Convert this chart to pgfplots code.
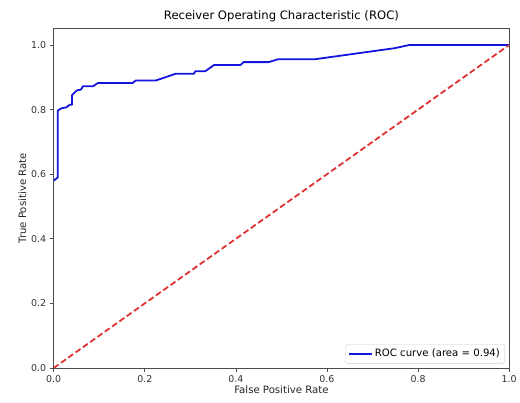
\documentclass[border=0pt]{standalone}
\usepackage{fontspec}
\setmainfont{DejaVu Sans}
\usepackage{pgfplots}
\pgfplotsset{compat=1.18}
\definecolor{rocblue}{RGB}{20,20,220}
\definecolor{diagred}{RGB}{222,50,50}
\begin{document}
\begin{tikzpicture}
\begin{axis}[
  scale only axis,
  width=458pt, height=341pt,
  xmin=0, xmax=1, ymin=0, ymax=1.05,
  xtick={0,0.2,0.4,0.6,0.8,1.0},
  ytick={0,0.2,0.4,0.6,0.8,1.0},
  /pgf/number format/assume math mode=true,
  /pgf/number format/.cd, fixed, fixed zerofill, precision=1, /pgfplots/.cd,
  tick label style={font=\fontsize{9.5}{10}\selectfont, text=black!80},
  tick align=outside, tick pos=left,
  major tick length=4pt,
  every tick/.style={black!70, line width=0.7pt},
  axis line style={black!70, line width=0.7pt},
  title={Receiver Operating Characteristic (ROC)},
  title style={font=\fontsize{11.7}{13}\selectfont, yshift=-3pt},
  xlabel={False Positive Rate},
  ylabel={True Positive Rate},
  label style={font=\fontsize{10.2}{11}\selectfont, text=black!85},
  xlabel style={yshift=4pt},
  ylabel style={yshift=-2pt},
  legend style={font=\fontsize{10.2}{11}\selectfont, draw=black!20, rounded corners=2pt,
    at={(0.991,0.013)}, anchor=south east, inner xsep=3pt, inner ysep=3pt},
  legend cell align=left,
  legend image code/.code={\draw[rocblue, line width=1.8pt] (0cm,0cm) -- (0.8cm,0cm);},
]
\addplot[rocblue, line width=1.8pt, line join=round] coordinates {
(0,0.58) (0.009,0.59) (0.009,0.797) (0.017,0.804) (0.028,0.807) (0.035,0.815)
(0.04,0.815) (0.04,0.844) (0.05,0.859) (0.06,0.862) (0.064,0.872) (0.086,0.872)
(0.097,0.882) (0.173,0.882) (0.18,0.89) (0.224,0.89) (0.268,0.911) (0.308,0.911)
(0.311,0.919) (0.333,0.919) (0.352,0.938) (0.41,0.938) (0.417,0.947) (0.472,0.947)
(0.493,0.956) (0.574,0.956) (0.748,0.99) (0.781,1.0) (1,1)
};
\addlegendentry{ROC curve (area = 0.94)}
\addplot[diagred, line width=1.8pt, dash pattern=on 6pt off 3pt, forget plot] coordinates {(0,0) (1,1)};
\end{axis}
\path (current axis.south west) ++(-54pt,-35pt) coordinate (bbA);
\path (current axis.north east) ++(8pt,29pt) coordinate (bbB);
\useasboundingbox (bbA) rectangle (bbB);
\end{tikzpicture}
\end{document}
